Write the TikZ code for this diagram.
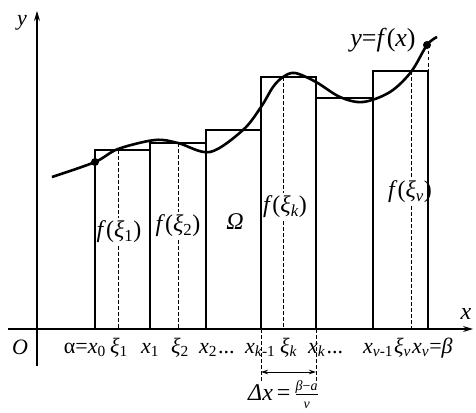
\documentclass[tikz,border=0pt]{standalone}
\usepackage{fontspec}
\setmainfont{Liberation Serif}
\usetikzlibrary{arrows.meta}

\begin{document}
\begin{tikzpicture}[x=1pt,y=-1pt,axis/.style={line width=1.1pt,-{Stealth[length=10pt,width=6pt]}},bar/.style={line width=1.1pt},guide/.style={line width=0.9pt,dash pattern=on 3.5pt off 2.5pt},curve/.style={line width=2.6pt},lbl/.style={font=\fontsize{22}{26}\selectfont,inner sep=1pt},val/.style={font=\fontsize{24}{28}\selectfont,inner sep=3pt},tick/.style={lbl,anchor=base west}]
\useasboundingbox (0,0) rectangle (476,412);
% rectangles f(xi_i) on [x_{i-1},x_i]
\foreach \a/\b/\h in {95/150/150,150/206/143,206/261/130,261/316/77,316/373/98,373/428/71}
  \draw[bar] (\a,329) -- (\a,\h) -- (\b,\h) -- (\b,329);
\draw[axis] (8,329) -- (473,329);
\draw[axis] (37,366) -- (37,11);
% the graph
\draw[curve] plot[smooth,tension=0.55] coordinates {(52,177) (95,162) (118,149) (155,140) (178,143) (210,152) (243,130) (261,107) (273,87) (283,77) (295,73) (316,82) (340,97) (363,102) (390,92) (411,72) (427,45) (437,37)};
\fill (95,162) circle (4pt); \fill (427,45) circle (4pt);
\draw[guide] (428,45) -- (428,71);
% heights f(xi_i)
\node[val] (f1) at (119,232){\textit{f}(\textit{ξ}\textsubscript{1})};
\node[val] (f2) at (178,226){\textit{f}(\textit{ξ}\textsubscript{2})};
\node[val] (fk) at (285,207){\textit{f}(\textit{ξ}\textsubscript{\textit{k}})};
\node[val] (fv) at (410,192){\textit{f}(\textit{ξ}\textsubscript{\textit{ν}})};
\node[val] (area) at (235,222){\textit{Ω}};
\coordinate (t1) at (118,150); \coordinate (b1) at (118,329);
\coordinate (t2) at (178,143); \coordinate (b2) at (178,329);
\coordinate (tk) at (283,77); \coordinate (bk) at (283,329);
\coordinate (tv) at (411,71); \coordinate (bv) at (411,329);
\draw[guide] (t1) -- (t1|-f1.north); \draw[guide] (t1|-f1.south) -- (b1);
\draw[guide] (t2) -- (t2|-f2.north); \draw[guide] (t2|-f2.south) -- (b2);
\draw[guide] (tk) -- (tk|-fk.north); \draw[guide] (tk|-fk.south) -- (bk);
\draw[guide] (tv) -- (tv|-fv.north); \draw[guide] (tv|-fv.south) -- (bv);
% axis labels
\node[lbl] (ylab) at (22,23){\textit{y}};
\node[lbl,font=\fontsize{24}{28}\selectfont] (xlab) at (466,314){\textit{x}};
\node[lbl] (orig) at (20,347){\textit{O}};
\node[val,inner sep=1pt,font=\fontsize{26}{30}\selectfont] (graph) at (383,40){\textit{y}=\textit{f}(\textit{x})};
% partition points
\node[lbl,anchor=base east] (x0) at (107,353){α=\textit{x}\textsubscript{0}};
\node[lbl,anchor=base] (xi1) at (119,353){\textit{ξ}\textsubscript{1}};
\node[lbl,anchor=base] (x1) at (150,353){\textit{x}\textsubscript{1}};
\node[lbl,anchor=base] (xi2) at (180,353){\textit{ξ}\textsubscript{2}};
\node[tick] (x2) at (198,353){\textit{x}\textsubscript{2}\kern1pt...};
\node[tick] (xk1) at (244,353){\textit{x}\textsubscript{\textit{k}-1}};
\node[tick] (xik) at (279,353){\textit{ξ}\textsubscript{\textit{k}}};
\node[tick] (xk) at (307,353){\textit{x}\textsubscript{\textit{k}}\kern1pt...};
\node[tick] (xv1) at (362,353){\textit{x}\textsubscript{\textit{ν}-1}};
\node[tick] (xiv) at (393,353){\textit{ξ}\textsubscript{\textit{ν}}};
\node[tick] (xv) at (411,353){\textit{x}\textsubscript{\textit{ν}}=\textit{β}};
% step length
\coordinate (dl) at (261,382); \coordinate (dr) at (316,382);
\coordinate (al) at (261,372); \coordinate (ar) at (316,372);
\draw[guide] (261,329) -- (dl); \draw[guide] (316,329) -- (dr);
\draw[line width=0.9pt,{Stealth[length=7pt,width=4.5pt]}-{Stealth[length=7pt,width=4.5pt]}] (al) -- (ar);
\node[tick,font=\fontsize{24}{28}\selectfont] (dx) at (247,400){\textit{Δx}\,=\,$\frac{\mbox{\fontsize{14}{14}\selectfont\textit{β}−\textit{a}}}{\mbox{\fontsize{14}{14}\selectfont\textit{ν}}}$};
\end{tikzpicture}
\end{document}
